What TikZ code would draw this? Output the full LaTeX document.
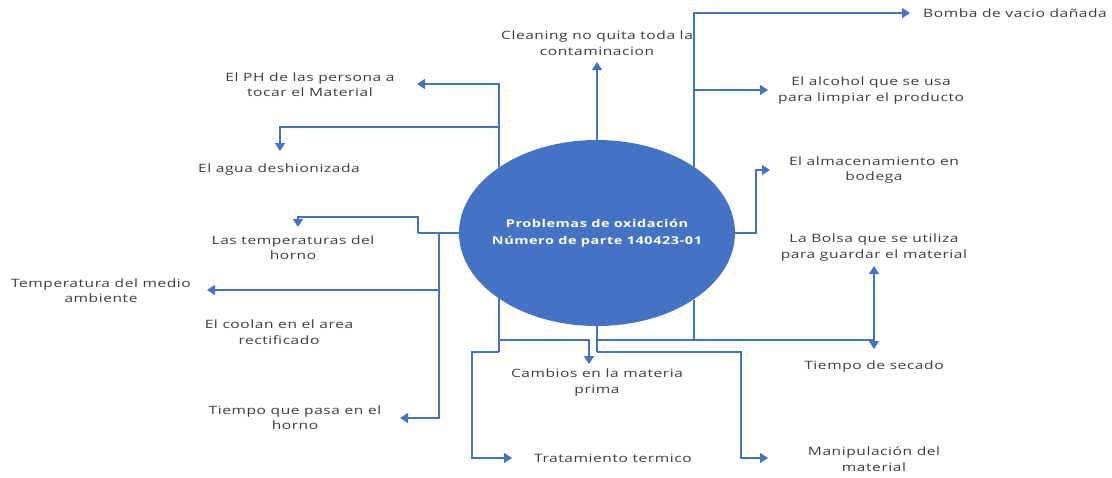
\documentclass[tikz,border=0pt]{standalone}
\usepackage{fontspec}
\setmainfont{Open Sans}
\newfontfamily\lblfont[FakeStretch=1.35,LetterSpace=5]{Open Sans}
\usetikzlibrary{arrows.meta,shapes.geometric}
\definecolor{accent}{HTML}{4472C4}
\definecolor{ink}{HTML}{3C3C3C}
\begin{document}
\begin{tikzpicture}[x=1pt,y=-1pt,
  link/.style={draw=accent, line width=1.2pt},
  arr/.style={link, -{Triangle[length=8pt,width=10pt]}},
  lbl/.style={font=\lblfont\fontsize{11.5}{15.5}\selectfont, text=ink, align=center, inner sep=0pt},
  hub/.style={ellipse, fill=accent, minimum width=276pt, minimum height=186pt, inner sep=0pt},
  hubtext/.style={text=white, align=center, inner sep=0pt,
    font=\lblfont\bfseries\fontsize{10.75}{17}\selectfont}]
\useasboundingbox (0,0) rectangle (1112,477);

% central topic
\node[hub] (c) at (597,233) {};
\node[hubtext] (ctext) at (c.center) {Problemas de oxidación\\Número de parte 140423-01};

% causes
\node[lbl] (clean)  at (597,43)    {Cleaning no quita toda la\\contaminacion};
\node[lbl] (ph)     at (310,84.5)  {El PH de las persona a\\tocar el Material};
\node[lbl] (agua)   at (279,170)   {El agua deshionizada};
\node[lbl] (tempH)  at (293,247.5) {Las temperaturas del\\horno};
\node[lbl] (tempA)  at (101,290.5) {Temperatura del medio\\ambiente};
\node[lbl] (cool)   at (279,332)   {El coolan en el area\\rectificado};
\node[lbl] (tiempoH) at (295,417.5) {Tiempo que pasa en el\\horno};
\node[lbl] (trat)   at (613,458)   {Tratamiento termico};
\node[lbl] (camb)   at (597,382.5) {Cambios en la materia\\prima};
\node[lbl] (manip)  at (874,459)   {Manipulación del\\material};
\node[lbl] (secado) at (874,367)   {Tiempo de secado};
\node[lbl] (bolsa)  at (874,247.5) {La Bolsa que se utiliza\\para guardar el material};
\node[lbl] (alm)    at (874,170)   {El almacenamiento en\\bodega};
\node[lbl] (alc)    at (871,90.5)  {El alcohol que se usa\\para limpiar el producto};
\node[lbl] (bomba)  at (1015,13)   {Bomba de vacio dañada};

% arrow tips in front of each label
\coordinate (tClean)  at (597,62);
\coordinate (tPH)     at (417,84);
\coordinate (tAgua)   at (280,151);
\coordinate (tTempH)  at (298,227);
\coordinate (tTempA)  at (207,290);
\coordinate (tTiempoH) at (400,418);
\coordinate (tTrat)   at (512,458);
\coordinate (tCamb)   at (589,364);
\coordinate (tManip)  at (768,458);
\coordinate (tSecado) at (874,349);
\coordinate (tBolsa)  at (874,266);
\coordinate (tAlm)    at (770,170);
\coordinate (tAlc)    at (768,90);
\coordinate (tBomba)  at (910,13);

% where the branches leave the ellipse
\coordinate (oNW) at (c.146.6 -| 499,0);
\coordinate (oSW) at (c.213.4 -| 499,0);
\coordinate (oNE) at (c.34.5 -| 694,0);
\coordinate (oSE) at (c.325.5 -| 694,0);

% branch points
\coordinate (jA)  at (499,127);
\coordinate (jB)  at (499,340);
\coordinate (jC)  at (499,352);
\coordinate (jS)  at (597,340);
\coordinate (jS2) at (597,352);
\coordinate (jR)  at (694,90);
\coordinate (jW)  at (418,0 |- c.west);
\coordinate (jL)  at (439,0 |- c.west);
\coordinate (jL2) at (439,290);
\coordinate (jE)  at (756,0 |- c.east);
\coordinate (jSec) at (874,340);

% top
\draw[arr] (c.north) -- (tClean);
% upper left
\draw[arr] (oNW) |- (tPH);
\draw[arr] (jA) -| (tAgua);
% left
\draw[link] (c.west) -- (jW);
\draw[arr] (jW) -- (418,217) -| (tTempH);
\draw[arr] (jL) |- (tTiempoH);
\draw[arr] (jL2) -- (tTempA);
% lower left
\draw[link] (oSW) -- (jC);
\draw[arr] (jC) -- (472,352) |- (tTrat);
\draw[arr] (jB) -| (tCamb);
% bottom
\draw[link] (c.south) -- (jS2);
\draw[arr] (jS2) -- (741,352) |- (tManip);
\draw[link] (jS) -- (jSec);
\draw[link] (oSE) -- (694,340);
\draw[arr] (jSec) -- (tSecado);
\draw[arr] (jSec) -- (tBolsa);
% right
\draw[arr] (oNE) |- (tBomba);
\draw[arr] (jR) -- (tAlc);
\draw[arr] (c.east) -- (jE) |- (tAlm);
\end{tikzpicture}
\end{document}
